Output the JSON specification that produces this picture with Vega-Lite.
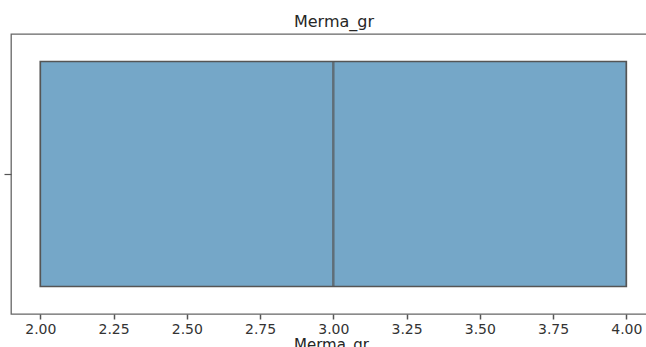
{
  "$schema": "https://vega.github.io/schema/vega-lite/v6.json",
  "autosize": {"type": "none"},
  "padding": {"left": 11, "top": 34, "right": 0, "bottom": 33},
  "width": 636,
  "height": 280,
  "background": "white",
  "title": {"text": "Merma_gr", "font": "DejaVu Sans", "fontSize": 16, "fontWeight": "normal", "color": "#262626", "offset": 4, "dx": 5},
  "config": {
    "view": {"stroke": "#666666", "strokeWidth": 1.3},
    "font": "DejaVu Sans"
  },
  "data": {"values": [
    {"cat": "", "Merma_gr": 2},
    {"cat": "", "Merma_gr": 2},
    {"cat": "", "Merma_gr": 3},
    {"cat": "", "Merma_gr": 4},
    {"cat": "", "Merma_gr": 4}
  ]},
  "mark": {
    "type": "boxplot",
    "extent": "min-max",
    "size": 225,
    "color": "#75a7c8",
    "box": {"stroke": "#555555", "strokeWidth": 1.7, "opacity": 1},
    "median": {"color": "#555555", "thickness": 2.5},
    "rule": {"color": "#555555", "strokeWidth": 1.5},
    "ticks": false,
    "outliers": false
  },
  "encoding": {
    "x": {
      "field": "Merma_gr", "type": "quantitative",
      "scale": {"domain": [1.9, 4.0706], "nice": false, "zero": false},
      "axis": {
        "values": [2, 2.25, 2.5, 2.75, 3, 3.25, 3.5, 3.75, 4],
        "format": ".2f",
        "grid": false, "domain": false,
        "tickColor": "#555555", "tickSize": 5, "tickWidth": 1.5,
        "labelFont": "DejaVu Sans", "labelFontSize": 14, "labelColor": "#333333", "labelPadding": 3,
        "title": "Merma_gr", "titleFont": "DejaVu Sans", "titleFontSize": 15, "titleFontWeight": "normal", "titleColor": "#262626", "titlePadding": 1, "titleX": 320
      }
    },
    "y": {
      "field": "cat", "type": "nominal",
      "axis": {"labels": false, "title": null, "domain": false, "grid": false, "ticks": true, "tickSize": 7, "tickColor": "#555555", "tickWidth": 1.2}
    }
  }
}
